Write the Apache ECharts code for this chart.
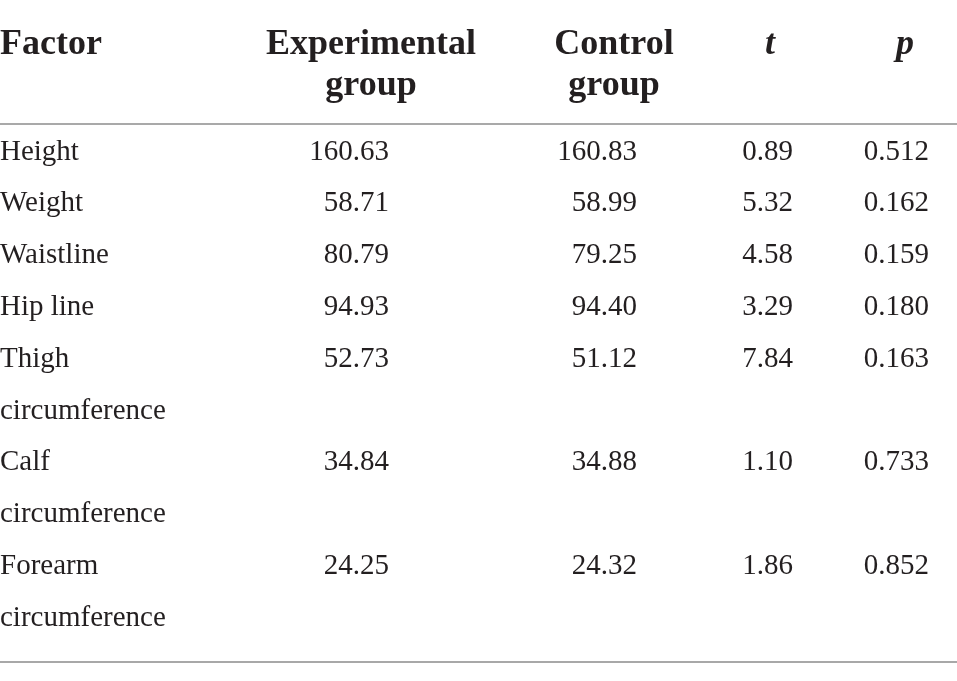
<!DOCTYPE html>
<html>
	<head>
		<meta charset="UTF-8">
		<title></title>
		<style>
			html, body { margin: 0; padding: 0; background: #fff; }
			#table { width: 957px; height: 681px; }
		</style>
	</head>
	<body>
		<div id="table"></div>

		<script src="https://cdn.jsdelivr.net/npm/echarts@6/dist/echarts.min.js"></script>
		<script>
			// 表头
			var headers = ['Factor', 'Experimental\ngroup', 'Control\ngroup', 't', 'p'];
			// 各行因素
			var factors = ['Height', 'Weight', 'Waistline', 'Hip line', 'Thigh\ncircumference', 'Calf\ncircumference', 'Forearm\ncircumference'];
			// 数据
			var experimental = [160.63, 58.71, 80.79, 94.93, 52.73, 34.84, 24.25];
			var control = [160.83, 58.99, 79.25, 94.40, 51.12, 34.88, 24.32];
			var tValues = [0.89, 5.32, 4.58, 3.29, 7.84, 1.10, 1.86];
			var pValues = [0.512, 0.162, 0.159, 0.180, 0.163, 0.733, 0.852];

			// 版式（像素）
			var textColor = '#231f20';
			var font = 'Liberation Serif';
			var headTop = 24, headLine = 41;
			var bodyTop = 126, bodyLine = 51.8;
			var headRule = 123.5, footRule = 662;
			// 列锚点：表头居中位置、正文对齐位置
			var headX = [0, 371, 614, 770, 905];
			var headAlign = ['left', 'center', 'center', 'center', 'center'];
			var cellX = [0, 389, 637, 793, 929];
			var cellAlign = ['left', 'right', 'right', 'right', 'right'];

			// 每行起始的行号（多行因素占多行）
			var rowLine = [];
			var n = 0;
			factors.forEach(function(f) {
				rowLine.push(n);
				n += f.split('\n').length;
			});

			var headData = headers.map(function(h, i) {
				var item = { value: [headX[i], headTop], name: h, label: { align: headAlign[i] } };
				if (h === 't' || h === 'p') item.label.fontStyle = 'italic';
				return item;
			});

			var columns = [factors, experimental, control, tValues, pValues];
			var digits = [null, 2, 2, 2, 3];
			var bodyData = [];
			columns.forEach(function(col, c) {
				col.forEach(function(v, r) {
					bodyData.push({
						value: [cellX[c], bodyTop + rowLine[r] * bodyLine],
						name: digits[c] === null ? v : v.toFixed(digits[c]),
						label: { align: cellAlign[c] }
					});
				});
			});

			var myChart = echarts.init(document.getElementById('table'));

			var option = {
				animation: false,
				grid: { left: 0, right: 0, top: 0, bottom: 0 },
				xAxis: { type: 'value', min: 0, max: 957, show: false },
				yAxis: { type: 'value', min: 0, max: 681, inverse: true, show: false },
				series: [{
					// 表头
					type: 'scatter',
					symbolSize: 1,
					itemStyle: { color: 'rgba(0,0,0,0)', opacity: 1 },
					data: headData,
					label: {
						show: true,
						position: 'inside',
						verticalAlign: 'top',
						formatter: '{b}',
						fontFamily: font,
						fontWeight: 'bold',
						fontSize: 36,
						lineHeight: headLine,
						color: textColor
					},
					markLine: {
						silent: true,
						symbol: 'none',
						label: { show: false },
						data: [
							{ yAxis: headRule, lineStyle: { color: '#8c8c8c', width: 1.5, type: 'solid' } },
							{ yAxis: footRule, lineStyle: { color: '#a8a8a8', width: 2, type: 'solid' } }
						]
					}
				}, {
					// 正文
					type: 'scatter',
					symbolSize: 1,
					itemStyle: { color: 'rgba(0,0,0,0)', opacity: 1 },
					data: bodyData,
					label: {
						show: true,
						position: 'inside',
						verticalAlign: 'top',
						formatter: '{b}',
						fontFamily: font,
						fontSize: 29,
						lineHeight: bodyLine,
						color: textColor
					}
				}]
			};

			myChart.setOption(option);
		</script>
	</body>
</html>
